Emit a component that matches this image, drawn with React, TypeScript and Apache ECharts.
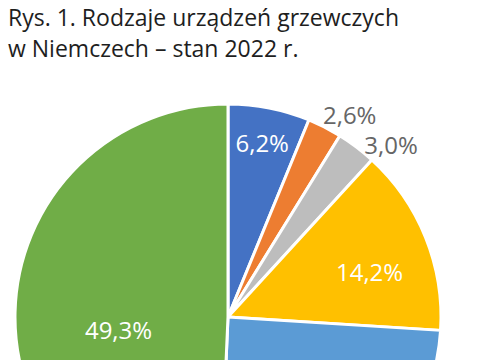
import React, { useEffect, useRef } from "react";
import * as echarts from "echarts";

const titleLines = ["Rys. 1. Rodzaje urządzeń grzewczych", "w Niemczech – stan 2022 r."];
const categories = ["Inne", "Ogrzewanie elektryczne", "Pompy ciepła", "Ciepło sieciowe", "Olej opałowy", "Gaz ziemny"];
const values = [6.2, 2.6, 3.0, 14.2, 24.7, 49.3];
const colors = ["#4472C4", "#ED7D31", "#BDBDBD", "#FFC000", "#5B9BD5", "#70AD47"];
const labelColors = ["#ffffff", "#666666", "#666666", "#ffffff", "#ffffff", "#ffffff"];
const labelVisible = [true, true, true, true, false, true];
const labelOffsets: number[][] = [[13, -67], [72, -105], [97, -85], [40, -5], [0, 0], [0, 15]];

export default function App() {
  const ref = useRef<HTMLDivElement>(null);
  useEffect(() => {
    if (!ref.current) return;
    const chart = echarts.init(ref.current, null, { renderer: "svg" });
    chart.setOption({
      animation: false,
      title: {
        text: titleLines.join("\n"),
        left: 8,
        top: 0,
        padding: [1, 0, 0, 0],
        textStyle: {
          fontFamily: "Open Sans",
          fontSize: 23,
          fontWeight: "normal",
          color: "#1e1e1e",
          lineHeight: 31,
        },
      },
      series: [
        {
          type: "pie",
          center: [228, 317],
          radius: 213,
          startAngle: 90,
          clockwise: true,
          itemStyle: { borderColor: "#ffffff", borderWidth: 3 },
          labelLine: { show: false },
          data: categories.map((name, i) => ({
            name,
            value: values[i],
            itemStyle: { color: colors[i] },
            label: {
              show: labelVisible[i],
              position: "inside",
              formatter: () => values[i].toFixed(1).replace(".", ",") + "%",
              color: labelColors[i],
              fontFamily: "Open Sans",
              fontSize: 24,
              offset: labelOffsets[i],
            },
          })),
        },
      ],
    });
    return () => chart.dispose();
  }, []);
  return (
    <div
      ref={ref}
      style={{ position: "fixed", left: 0, top: 0, width: 477, height: 360, background: "#fff" }}
    />
  );
}
